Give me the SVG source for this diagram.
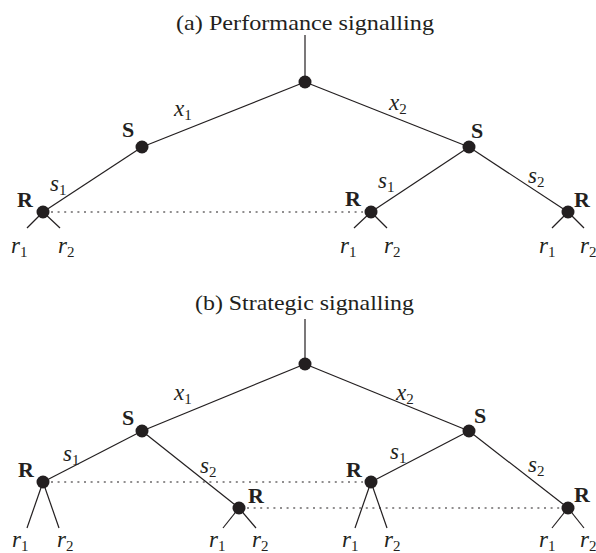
<svg xmlns="http://www.w3.org/2000/svg" width="596" height="553" viewBox="0 0 596 553">
<style>
  .bg{fill:#ffffff}
  .edge{stroke:#231f20;stroke-width:1.2;fill:none}
  .info{stroke:#231f20;stroke-width:1.2;stroke-dasharray:2 4.6;fill:none}
  .dot{fill:#231f20}
  .title{font-family:"Liberation Serif",serif;font-size:21px;fill:#231f20}
  .pl{font-family:"Liberation Serif",serif;font-size:22px;font-weight:bold;fill:#231f20}
  .m{font-family:"Liberation Serif",serif;font-size:23px;font-style:italic;fill:#231f20}
  .sub{font-style:normal;font-size:15px}
</style>
<rect class="bg" x="0" y="0" width="596" height="553"/>

<text class="title" x="176" y="30" textLength="258" lengthAdjust="spacingAndGlyphs">(a) Performance signalling</text>
<text class="title" x="195" y="310" textLength="219" lengthAdjust="spacingAndGlyphs">(b) Strategic signalling</text>

<g id="connectors">
  <!-- panel a -->
  <line class="edge" x1="305" y1="35" x2="305" y2="82"/>
  <line class="edge" x1="305" y1="82" x2="142" y2="147"/>
  <line class="edge" x1="305" y1="82" x2="469" y2="147"/>
  <line class="edge" x1="142" y1="147" x2="43" y2="212"/>
  <line class="edge" x1="469" y1="147" x2="371" y2="212"/>
  <line class="edge" x1="469" y1="147" x2="568" y2="212"/>
  <line class="edge" x1="43" y1="212" x2="27" y2="228"/>
  <line class="edge" x1="43" y1="212" x2="60" y2="228"/>
  <line class="edge" x1="371" y1="212" x2="354" y2="228"/>
  <line class="edge" x1="371" y1="212" x2="387" y2="228"/>
  <line class="edge" x1="568" y1="212" x2="552" y2="228"/>
  <line class="edge" x1="568" y1="212" x2="584" y2="228"/>
  <line class="info" x1="51" y1="212" x2="363" y2="212"/>
  <!-- panel b -->
  <line class="edge" x1="305" y1="319" x2="305" y2="364"/>
  <line class="edge" x1="305" y1="364" x2="142" y2="431"/>
  <line class="edge" x1="305" y1="364" x2="469" y2="431"/>
  <line class="edge" x1="142" y1="431" x2="43" y2="482"/>
  <line class="edge" x1="142" y1="431" x2="239" y2="508"/>
  <line class="edge" x1="469" y1="431" x2="371" y2="482"/>
  <line class="edge" x1="469" y1="431" x2="568" y2="508"/>
  <line class="edge" x1="43" y1="482" x2="27" y2="528"/>
  <line class="edge" x1="43" y1="482" x2="59" y2="528"/>
  <line class="edge" x1="239" y1="508" x2="223" y2="528"/>
  <line class="edge" x1="239" y1="508" x2="256" y2="528"/>
  <line class="edge" x1="371" y1="482" x2="355" y2="528"/>
  <line class="edge" x1="371" y1="482" x2="387" y2="528"/>
  <line class="edge" x1="568" y1="508" x2="552" y2="528"/>
  <line class="edge" x1="568" y1="508" x2="584" y2="528"/>
  <line class="info" x1="51" y1="482" x2="363" y2="482"/>
  <line class="info" x1="247" y1="508" x2="560" y2="508"/>

  <!-- edge labels panel a -->
  <text class="m" x="174" y="116">x<tspan class="sub" dy="4">1</tspan></text>
  <text class="m" x="389" y="110">x<tspan class="sub" dy="4">2</tspan></text>
  <text class="m" x="50" y="191">s<tspan class="sub" dy="4">1</tspan></text>
  <text class="m" x="378" y="188">s<tspan class="sub" dy="4">1</tspan></text>
  <text class="m" x="528" y="183">s<tspan class="sub" dy="4">2</tspan></text>
  <text class="m" x="11" y="253">r<tspan class="sub" dy="4">1</tspan></text>
  <text class="m" x="58" y="253">r<tspan class="sub" dy="4">2</tspan></text>
  <text class="m" x="340" y="253">r<tspan class="sub" dy="4">1</tspan></text>
  <text class="m" x="384" y="253">r<tspan class="sub" dy="4">2</tspan></text>
  <text class="m" x="539" y="253">r<tspan class="sub" dy="4">1</tspan></text>
  <text class="m" x="580" y="253">r<tspan class="sub" dy="4">2</tspan></text>
  <!-- edge labels panel b -->
  <text class="m" x="174" y="400">x<tspan class="sub" dy="4">1</tspan></text>
  <text class="m" x="396" y="400">x<tspan class="sub" dy="4">2</tspan></text>
  <text class="m" x="63" y="461">s<tspan class="sub" dy="4">1</tspan></text>
  <text class="m" x="200" y="473">s<tspan class="sub" dy="4">2</tspan></text>
  <text class="m" x="390" y="459">s<tspan class="sub" dy="4">1</tspan></text>
  <text class="m" x="528" y="472">s<tspan class="sub" dy="4">2</tspan></text>
  <text class="m" x="12" y="547">r<tspan class="sub" dy="4">1</tspan></text>
  <text class="m" x="57" y="547">r<tspan class="sub" dy="4">2</tspan></text>
  <text class="m" x="209" y="547">r<tspan class="sub" dy="4">1</tspan></text>
  <text class="m" x="252" y="547">r<tspan class="sub" dy="4">2</tspan></text>
  <text class="m" x="342" y="547">r<tspan class="sub" dy="4">1</tspan></text>
  <text class="m" x="384" y="547">r<tspan class="sub" dy="4">2</tspan></text>
  <text class="m" x="539" y="547">r<tspan class="sub" dy="4">1</tspan></text>
  <text class="m" x="580" y="547">r<tspan class="sub" dy="4">2</tspan></text>
</g>

<!-- panel a nodes -->
<g id="a-root"><circle class="dot" cx="305" cy="82" r="6.5"/></g>
<g id="a-S1"><circle class="dot" cx="142" cy="147" r="6.5"/><text class="pl" x="122" y="137">S</text></g>
<g id="a-S2"><circle class="dot" cx="469" cy="147" r="6.5"/><text class="pl" x="471" y="138">S</text></g>
<g id="a-R1"><circle class="dot" cx="43" cy="212" r="6.5"/><text class="pl" x="17" y="207">R</text></g>
<g id="a-R2"><circle class="dot" cx="371" cy="212" r="6.5"/><text class="pl" x="345" y="206">R</text></g>
<g id="a-R3"><circle class="dot" cx="568" cy="212" r="6.5"/><text class="pl" x="574" y="207">R</text></g>

<!-- panel b nodes -->
<g id="b-root"><circle class="dot" cx="305" cy="364" r="6.5"/></g>
<g id="b-S1"><circle class="dot" cx="142" cy="431" r="6.5"/><text class="pl" x="122" y="425">S</text></g>
<g id="b-S2"><circle class="dot" cx="469" cy="431" r="6.5"/><text class="pl" x="474" y="423">S</text></g>
<g id="b-R1"><circle class="dot" cx="43" cy="482" r="6.5"/><text class="pl" x="18" y="477">R</text></g>
<g id="b-R2"><circle class="dot" cx="239" cy="508" r="6.5"/><text class="pl" x="248" y="503">R</text></g>
<g id="b-R3"><circle class="dot" cx="371" cy="482" r="6.5"/><text class="pl" x="346" y="477">R</text></g>
<g id="b-R4"><circle class="dot" cx="568" cy="508" r="6.5"/><text class="pl" x="574" y="502">R</text></g>
</svg>
